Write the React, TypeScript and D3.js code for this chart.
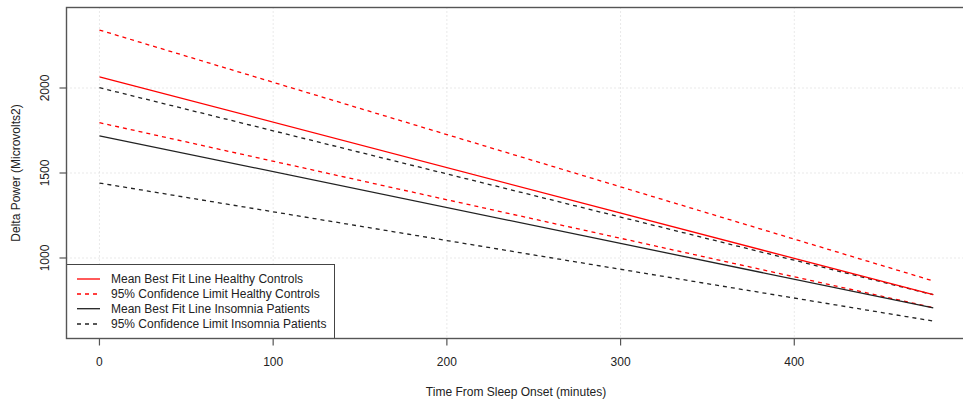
import React from "react";
import * as d3 from "d3";

const timePoints = [0, 480];
const healthyMean = [2066, 784];
const healthyUpper = [2341, 865];
const healthyLower = [1796, 708];
const insomniaMean = [1719, 706];
const insomniaUpper = [2002, 784];
const insomniaLower = [1441, 629];

const xTicks = [0, 100, 200, 300, 400];
const yTicks = [1000, 1500, 2000];

const legendLabels = [
  "Mean Best Fit Line Healthy Controls",
  "95% Confidence Limit Healthy Controls",
  "Mean Best Fit Line Insomnia Patients",
  "95% Confidence Limit Insomnia Patients",
];

const W = 963;
const H = 407;
const box = { left: 66.5, top: 7.5, right: 966.5, bottom: 338.5 };
const FONT = "'Liberation Sans', Arial, sans-serif";

export default function App() {
  const x = d3.scaleLinear().domain([-19.2, 499.2]).range([66.1, 966.6]);
  const y = d3.scaleLinear().domain([523.5, 2474.7]).range([339, 7.3]);
  const line = d3
    .line<[number, number]>()
    .x((d) => x(d[0]))
    .y((d) => y(d[1]));
  const mk = (vals: number[]) => timePoints.map((t, i) => [t, vals[i]] as [number, number]);

  const series = [
    { vals: healthyUpper, color: "#ff0000", dash: "4,4" },
    { vals: healthyLower, color: "#ff0000", dash: "4,4" },
    { vals: insomniaUpper, color: "#222222", dash: "4,4" },
    { vals: insomniaLower, color: "#222222", dash: "4,4" },
    { vals: healthyMean, color: "#ff0000", dash: null },
    { vals: insomniaMean, color: "#222222", dash: null },
  ];

  const legendItems = [
    { color: "#ff0000", dash: null },
    { color: "#ff0000", dash: "4,4" },
    { color: "#222222", dash: null },
    { color: "#222222", dash: "4,4" },
  ];
  const legendRows = [279, 294, 308.7, 324];

  return (
    <svg
      width={W}
      height={H}
      style={{ position: "absolute", left: 0, top: 0, background: "#fff" }}
      fontFamily={FONT}
    >
      <rect x={0} y={0} width={W} height={H} fill="#fff" />
      {/* grid */}
      {xTicks.map((t) => (
        <line
          key={"gx" + t}
          x1={x(t)}
          x2={x(t)}
          y1={box.top}
          y2={box.bottom}
          stroke="#d3d3d3"
          strokeDasharray="1,3"
          strokeWidth={1}
        />
      ))}
      {yTicks.map((t) => (
        <line
          key={"gy" + t}
          x1={box.left}
          x2={box.right}
          y1={y(t)}
          y2={y(t)}
          stroke="#d3d3d3"
          strokeDasharray="1,3"
          strokeWidth={1}
        />
      ))}
      {/* series */}
      {series.map((s, i) => (
        <path
          key={"s" + i}
          d={line(mk(s.vals)) || ""}
          fill="none"
          stroke={s.color}
          strokeWidth={1.3}
          strokeDasharray={s.dash || undefined}
        />
      ))}
      {/* legend */}
      <rect
        x={66.5}
        y={264.5}
        width={268}
        height={74}
        fill="#fff"
        stroke="#444"
        strokeWidth={1}
      />
      {legendItems.map((it, i) => (
        <g key={"l" + i}>
          <line
            x1={77}
            x2={100}
            y1={legendRows[i]}
            y2={legendRows[i]}
            stroke={it.color}
            strokeWidth={1.3}
            strokeDasharray={it.dash || undefined}
          />
          <text x={111} y={legendRows[i] + 4.3} fontSize={12} fill="#222">
            {legendLabels[i]}
          </text>
        </g>
      ))}
      {/* box */}
      <rect
        x={box.left}
        y={box.top}
        width={box.right - box.left}
        height={box.bottom - box.top}
        fill="none"
        stroke="#555"
        strokeWidth={1.4}
      />
      {/* x axis */}
      {xTicks.map((t) => (
        <g key={"xt" + t}>
          <line x1={x(t)} x2={x(t)} y1={box.bottom} y2={box.bottom + 7} stroke="#555" strokeWidth={1.2} />
          <text x={x(t)} y={365.5} fontSize={12} textAnchor="middle" fill="#222">
            {t}
          </text>
        </g>
      ))}
      <text x={516} y={396} fontSize={12} textAnchor="middle" fill="#222">
        Time From Sleep Onset (minutes)
      </text>
      {/* y axis */}
      {yTicks.map((t) => (
        <g key={"yt" + t}>
          <line x1={box.left - 7} x2={box.left} y1={y(t)} y2={y(t)} stroke="#555" strokeWidth={1.2} />
          <text
            transform={`translate(49,${y(t)}) rotate(-90)`}
            fontSize={12}
            textAnchor="middle"
            fill="#222"
          >
            {t}
          </text>
        </g>
      ))}
      <text
        transform={`translate(19.5,173) rotate(-90)`}
        fontSize={12}
        textAnchor="middle"
        fill="#222"
      >
        Delta Power (Microvolts2)
      </text>
    </svg>
  );
}
